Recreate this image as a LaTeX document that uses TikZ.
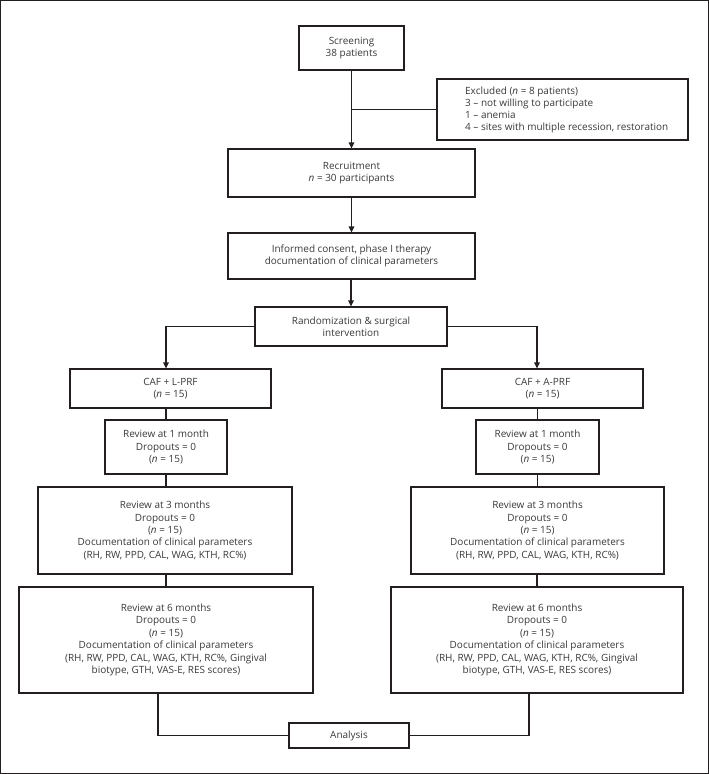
\documentclass[tikz,border=0pt]{standalone}
\usepackage{fontspec}
\setmainfont{Open Sans}
\usetikzlibrary{arrows.meta,calc}
\definecolor{ln}{HTML}{231F20}
\definecolor{tx}{HTML}{3A3A3A}
\tikzset{
  box/.style={draw=ln,line width=1.1bp,fill=white,align=center,text=tx,inner sep=0pt,
    font=\fontsize{10}{12.5}\selectfont},
  conn/.style={draw=ln,line width=1.1bp},
  arr/.style={conn,-{Triangle[length=6bp,width=5.5bp]}},
}
\begin{document}
\begin{tikzpicture}[x=1bp,y=-1bp]
\useasboundingbox (0,0) rectangle (709,774);
\draw[ln,line width=1.3bp] (0.65,0.65) rectangle (708.35,773.35);
\node[box,minimum width=105bp,minimum height=44bp] (scr) at (351.5,48) {Screening\\38 patients};
\node[box,minimum width=251bp,minimum height=61bp] (exc) at (562.5,109.5) {};
\node[anchor=west,align=left,text=tx,inner sep=0pt,font=\fontsize{10}{12}\selectfont] (exct) at (465,109.5)
  {Excluded (\textit{n} = 8 patients)\\3 -- not willing to participate\\1 -- anemia\\4 -- sites with multiple recession, restoration};
\node[box,minimum width=247bp,minimum height=48bp] (rec) at (351.5,173) {Recruitment\\\textit{n} = 30 participants};
\node[box,minimum width=247bp,minimum height=46bp] (inf) at (351.5,256) {Informed consent, phase I therapy\\documentation of clinical parameters};
\node[box,minimum width=192bp,minimum height=39bp] (rnd) at (351,326.5) {Randomization \& surgical\\intervention};
\node[box,minimum width=201bp,minimum height=39bp] (cafL) at (170.5,388.5) {CAF + L-PRF\\(\textit{n} = 15)};
\node[box,minimum width=201bp,minimum height=39bp] (cafR) at (542.5,388.5) {CAF + A-PRF\\(\textit{n} = 15)};
\node[box,minimum width=122bp,minimum height=54bp] (r1L) at (166,447) {Review at 1 month\\Dropouts = 0\\(\textit{n} = 15)};
\node[box,minimum width=123bp,minimum height=54bp] (r1R) at (537.5,447) {Review at 1 month\\Dropouts = 0\\(\textit{n} = 15)};
\node[box,minimum width=254bp,minimum height=87bp] (r3L) at (165,530.5) {Review at 3 months\\Dropouts = 0\\(\textit{n} = 15)\\Documentation of clinical parameters\\(RH, RW, PPD, CAL, WAG, KTH, RC\%)};
\node[box,minimum width=253bp,minimum height=87bp] (r3R) at (537.5,530.5) {Review at 3 months\\Dropouts = 0\\(\textit{n} = 15)\\Documentation of clinical parameters\\(RH, RW, PPD, CAL, WAG, KTH, RC\%)};
\node[box,minimum width=294bp,minimum height=106bp] (r6L) at (166,640) {Review at 6 months\\Dropouts = 0\\(\textit{n} = 15)\\Documentation of clinical parameters\\(RH, RW, PPD, CAL, WAG, KTH, RC\%, Gingival\\biotype, GTH, VAS-E, RES scores)};
\node[box,minimum width=292bp,minimum height=106bp] (r6R) at (537,640) {Review at 6 months\\Dropouts = 0\\(\textit{n} = 15)\\Documentation of clinical parameters\\(RH, RW, PPD, CAL, WAG, KTH, RC\%, Gingival\\biotype, GTH, VAS-E, RES scores)};
\node[box,minimum width=120bp,minimum height=25bp] (ana) at (349,735.5) {Analysis};
% connectors
\coordinate (brx) at (351.5,109.5);
\draw[arr] (scr.south) -- (rec.north);
\draw[conn] (brx) -- (exc.west);
\draw[arr] (rec.south) -- (inf.north);
\draw[arr] (inf.south -| rnd.north) -- (rnd.north);
\draw[arr] (rnd.west) -| ([xshift=-4.5bp]cafL.north);
\draw[arr] (rnd.east) -| ([xshift=-5.5bp]cafR.north);
\draw[conn] (r1L.north |- cafL.south) -- (r1L.north);
\draw[conn] (r1R.north |- cafR.south) -- (r1R.north);
\draw[conn] (r1L.south) -- (r1L.south |- r3L.north);
\draw[conn] (r1R.south) -- (r1R.south |- r3R.north);
\draw[conn] (r6L.north |- r3L.south) -- (r6L.north);
\draw[conn] (r6R.north |- r3R.south) -- (r6R.north);
\draw[conn] ([xshift=-8bp]r6L.south) |- (ana.west);
\draw[conn] ([xshift=-8bp]r6R.south) |- (ana.east);
\end{tikzpicture}
\end{document}
